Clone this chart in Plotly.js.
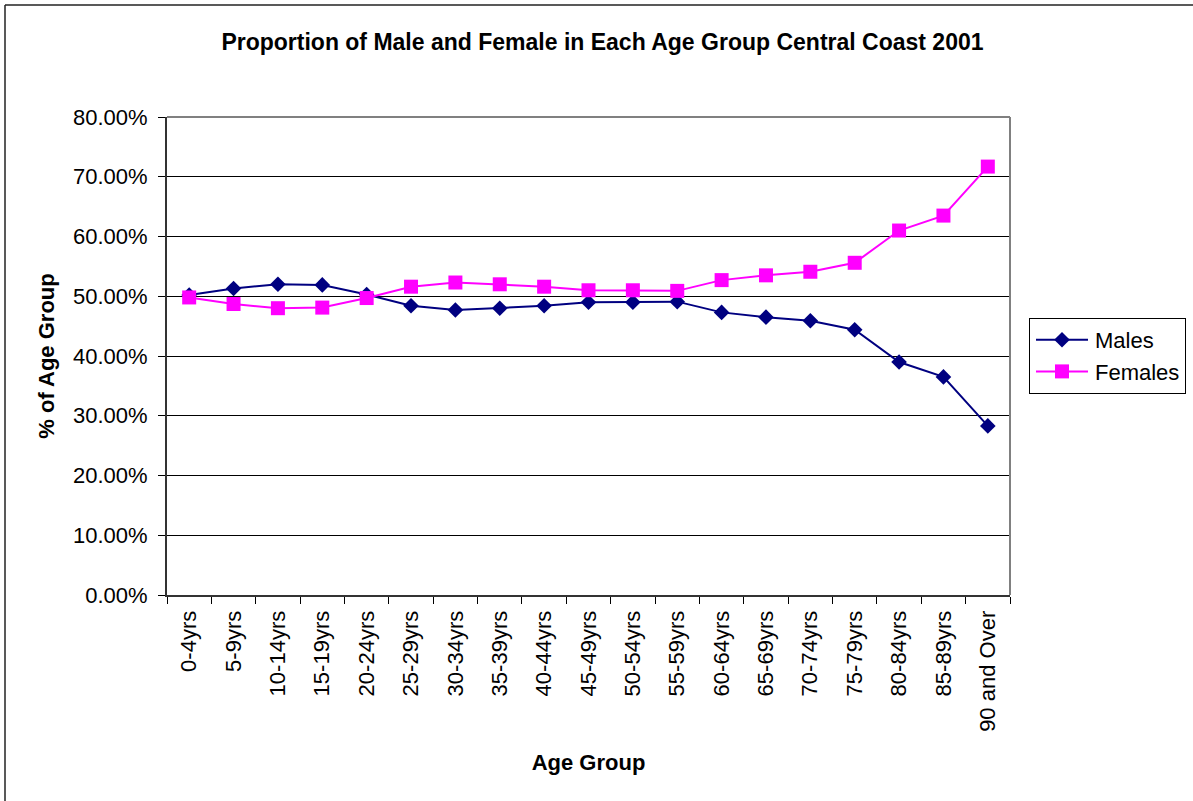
<!DOCTYPE html>
<html>
<head>
<meta charset="utf-8">
<script src="https://cdn.plot.ly/plotly-3.0.1.min.js"></script>
<style>
html,body{margin:0;padding:0;background:#fff;}
#chart{width:1193px;height:801px;}
</style>
</head>
<body>
<div id="chart"></div>
<script>
const ageGroups = ["0-4yrs","5-9yrs","10-14yrs","15-19yrs","20-24yrs","25-29yrs","30-34yrs","35-39yrs","40-44yrs","45-49yrs","50-54yrs","55-59yrs","60-64yrs","65-69yrs","70-74yrs","75-79yrs","80-84yrs","85-89yrs","90 and Over"];
const males   = [0.502,0.513,0.520,0.519,0.503,0.484,0.477,0.480,0.484,0.490,0.490,0.491,0.473,0.465,0.459,0.444,0.390,0.365,0.283];
const females = [0.498,0.487,0.480,0.481,0.497,0.516,0.523,0.520,0.516,0.510,0.510,0.509,0.527,0.535,0.541,0.556,0.610,0.635,0.717];
const yTicks = [0,0.1,0.2,0.3,0.4,0.5,0.6,0.7,0.8];

const W = 1193, H = 801;
const M = {l:167, r:183, t:117, b:206};
const pw = W - M.l - M.r, ph = H - M.t - M.b;
const px = v => (v - M.l) / pw;
const py = v => (H - M.b - v) / ph;

const FONT = '"Liberation Sans", Arial, Helvetica, sans-serif';

const traces = [
  {x: ageGroups, y: males, name: 'Males', type: 'scatter', mode: 'lines+markers',
   line: {color: '#000080', width: 2},
   marker: {symbol: 'diamond', size: 12, color: '#000080'}},
  {x: ageGroups, y: females, name: 'Females', type: 'scatter', mode: 'lines+markers',
   line: {color: '#FF00FF', width: 2},
   marker: {symbol: 'square', size: 14, color: '#FF00FF'}}
];

const layout = {
  width: W, height: H,
  margin: M,
  paper_bgcolor: '#fff', plot_bgcolor: '#fff',
  font: {family: FONT, color: '#000', size: 22},
  title: {text: 'Proportion of Male and Female in Each Age Group Central Coast 2001',
          font: {family: FONT, size: 23, color: '#000', weight: 'bold'},
          x: 0.505, xanchor: 'center', xref: 'container',
          y: 1 - 42/H, yanchor: 'middle', yref: 'container'},
  xaxis: {type: 'category', range: [-0.5, ageGroups.length - 0.5],
          tickson: 'boundaries', ticks: 'outside', ticklen: 7,
          tickcolor: '#000', tickwidth: 1, tickangle: -90,
          showgrid: false, showline: true, linecolor: '#333', linewidth: 2,
          ticklabelstandoff: 5, automargin: false,
          tickfont: {size: 22}, zeroline: false, fixedrange: true,
          title: {text: 'Age Group', font: {size: 22, weight: 'bold'}, standoff: 24}},
  yaxis: {range: [0, 0.8], tickvals: yTicks, tickformat: '.2%',
          ticks: 'outside', ticklen: 7, tickcolor: '#000', tickwidth: 1,
          showgrid: true, gridcolor: '#000', gridwidth: 1,
          showline: true, linecolor: '#333', linewidth: 2, zeroline: false,
          ticklabelstandoff: 6, tickfont: {size: 22}, fixedrange: true, automargin: false,
          title: {text: '% of Age Group', font: {size: 22, weight: 'bold'}, standoff: 12}},
  showlegend: true,
  legend: {xref: 'container', yref: 'container',
           x: 1029 / W, xanchor: 'left', y: 1 - 318 / H, yanchor: 'top',
           bordercolor: '#000', borderwidth: 1, bgcolor: '#fff',
           itemwidth: 55, font: {size: 22}, tracegroupgap: 0},
  shapes: [
    {type: 'line', xref: 'paper', yref: 'paper', x0: 0, x1: 1, y0: 1, y1: 1,
     line: {color: '#808080', width: 2}},
    {type: 'line', xref: 'paper', yref: 'paper', x0: 1, x1: 1, y0: 0, y1: 1,
     line: {color: '#808080', width: 2}},
    {type: 'line', xref: 'paper', yref: 'paper', x0: px(5), x1: px(5), y0: py(5), y1: py(H),
     line: {color: '#222', width: 1.5}},
    {type: 'line', xref: 'paper', yref: 'paper', x0: px(5), x1: px(W), y0: py(5), y1: py(5),
     line: {color: '#222', width: 1.5}}
  ]
};

Plotly.newPlot('chart', traces, layout, {displayModeBar: false, staticPlot: true}).then(function(gd){
  // stretch the legend line samples to match the longer sample lines of the original
  gd.querySelectorAll('.legend .legendlines path').forEach(function(p){ p.setAttribute('d', 'M6,0h52'); });
  gd.querySelectorAll('.legend .legendpoints path').forEach(function(p){
    p.setAttribute('transform', 'translate(32,0)');
  });
});
</script>
</body>
</html>
